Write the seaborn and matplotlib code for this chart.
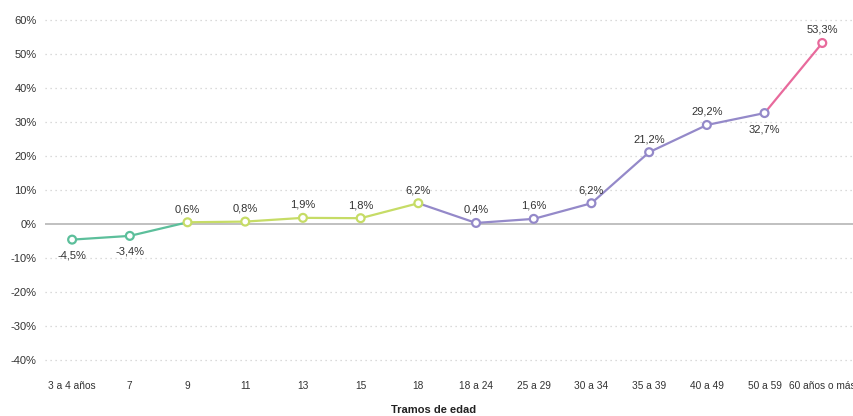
import numpy as np
import pandas as pd
import matplotlib
matplotlib.use("Agg")
import matplotlib.pyplot as plt
import seaborn as sns

# Age brackets and percentage values
categories = ["3 a 4 años", "7", "9", "11", "13", "15", "18", "18 a 24",
              "25 a 29", "30 a 34", "35 a 39", "40 a 49", "50 a 59", "60 años o más"]
values = [-4.5, -3.4, 0.6, 0.8, 1.9, 1.8, 6.2, 0.4, 1.6, 6.2, 21.2, 29.2, 32.7, 53.3]
point_group = ["a", "a", "b", "b", "b", "b", "b", "c", "c", "c", "c", "c", "c", "d"]
label_below = [True, True, False, False, False, False, False, False, False, False,
               False, False, True, False]
# line segments (point index ranges incl. shared endpoints)
line_groups = {"a": (0, 2), "b": (2, 6), "c": (6, 12), "d": (12, 13)}
palette = {"a": "#5cbf9b", "b": "#c6dc66", "c": "#9489c9", "d": "#e86a9c"}

yticks = [-40, -30, -20, -10, 0, 10, 20, 30, 40, 50, 60]

df = pd.DataFrame({"pos": np.arange(len(categories)), "value": values,
                   "group": point_group})

sns.set_theme(style="white")
plt.rcParams["font.family"] = ["Liberation Sans", "DejaVu Sans"]

fig = plt.figure(figsize=(8.54, 4.16), dpi=100)
ax = fig.add_axes([45 / 854, 1 - 374 / 416, 809 / 854, 364 / 416])

for y in yticks:
    if y == 0:
        ax.axhline(0, color="#b5b5b5", lw=1.2, zorder=1)
    else:
        ax.axhline(y, color="#cfcfcf", lw=0.9, ls=(0, (1, 3)), zorder=1)

for g, (i0, i1) in line_groups.items():
    sub = df.iloc[i0:i1 + 1]
    sns.lineplot(data=sub, x="pos", y="value", color=palette[g], lw=1.6,
                 ax=ax, zorder=2, legend=False)

sns.scatterplot(data=df, x="pos", y="value", hue="group", palette=palette,
                s=32, ax=ax, zorder=3, legend=False)
coll = ax.collections[-1]
coll.set_edgecolors(coll.get_facecolors())
coll.set_facecolor("white")
coll.set_linewidth(1.6)

for i, v in enumerate(values):
    txt = f"{v:.1f}%".replace(".", ",")
    off = -16 if label_below[i] else 13
    ax.annotate(txt, (i, v), xytext=(0, off), textcoords="offset pixels",
                ha="center", va="center", fontsize=8, color="#333333")

ax.set_xlim(-0.47, 13.55)
ax.set_ylim(-44, 63)
ax.set_xticks(df["pos"])
ax.set_xticklabels(categories)
ax.set_yticks(yticks)
ax.set_yticklabels([f"{y}%" for y in yticks])
ax.tick_params(axis="both", length=0, colors="#333333")
ax.tick_params(axis="y", pad=6, labelsize=8)
ax.tick_params(axis="x", pad=5, labelsize=7.3)
for s in ax.spines.values():
    s.set_visible(False)

ax.set_ylabel("")
ax.set_xlabel("Tramos de edad", fontsize=8, fontweight="bold", color="#222222")
ax.xaxis.set_label_coords((434 - 45) / 809, -0.085)

fig.savefig("out.png", dpi=100)
